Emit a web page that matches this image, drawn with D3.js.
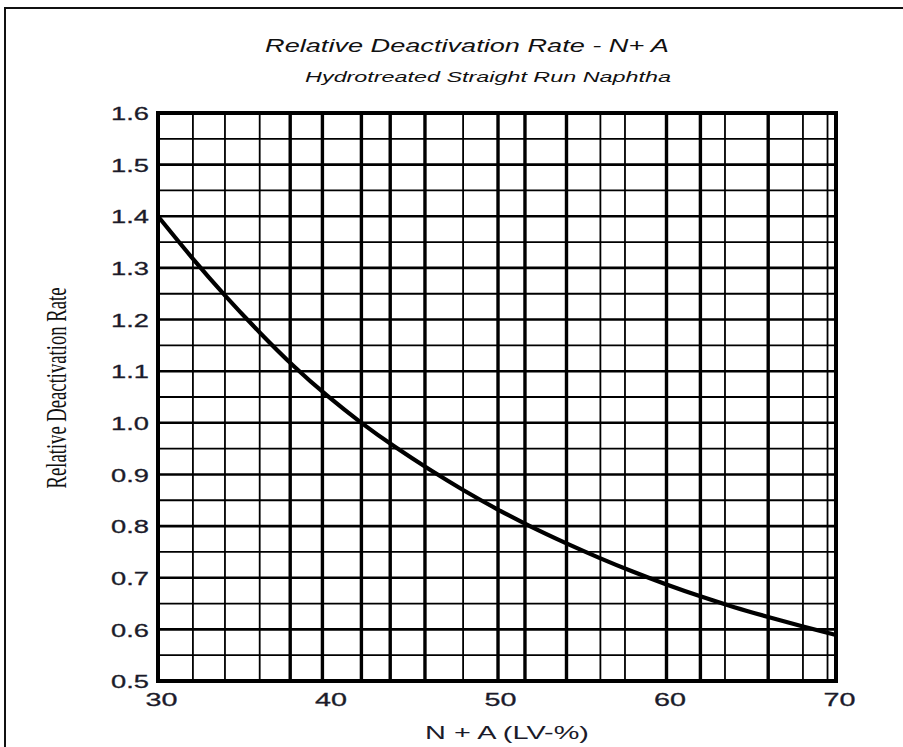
<!DOCTYPE html>
<html>
<head>
<meta charset="utf-8">
<script src="https://cdn.jsdelivr.net/npm/d3@7"></script>
<style>
  html, body { margin: 0; padding: 0; background: #fff; }
  svg { display: block; }
</style>
</head>
<body>
<svg id="chart" width="903" height="747"></svg>
<script>
// N + A content (LV-%) and relative deactivation rate along the curve
const naValues   = [30, 32, 34, 36, 38, 40, 42, 44, 46, 48, 50, 52, 54, 56, 58, 60, 62, 64, 66, 68, 70];
const rateValues = [1.40, 1.32, 1.245, 1.175, 1.11, 1.052, 1.00, 0.953, 0.91, 0.87, 0.833, 0.799, 0.768, 0.739, 0.712, 0.687, 0.664, 0.643, 0.624, 0.606, 0.589];

// axis ticks
const xTicks = [30, 40, 50, 60, 70];
const yTicks = [0.5, 0.6, 0.7, 0.8, 0.9, 1.0, 1.1, 1.2, 1.3, 1.4, 1.5, 1.6];

// vertical rulings of the chart paper (in N + A units) and which are heavy
const gridX      = [32.06, 33.95, 36.0, 37.8, 39.7, 42.0, 43.7, 45.75, 48.0, 50.06, 51.65, 54.1, 56.1, 57.55, 60.0, 62.0, 63.45, 66.0, 68.05, 69.5];
const gridXHeavy = [false, false, false, true, true, true, true, true, false, true, true, true, false, false, true, true, false, true, false, false];
// horizontal rulings every 0.05
const gridY = [0.55, 0.6, 0.65, 0.7, 0.75, 0.8, 0.85, 0.9, 0.95, 1.0, 1.05, 1.1, 1.15, 1.2, 1.25, 1.3, 1.35, 1.4, 1.45, 1.5, 1.55];

const svg = d3.select("#chart");

const x = d3.scaleLinear().domain([30, 70]).range([158, 836]);
const y = d3.scaleLinear().domain([0.5, 1.6]).range([681, 113]);

const SANS = "Liberation Sans, Arial, sans-serif";

// widen (or narrow) a text horizontally about its anchor so it spans `width` px
function fitWidth(sel, width, ax) {
  sel.each(function () {
    const w = this.getComputedTextLength();
    const k = width / w;
    const a = ax === undefined ? +this.getAttribute("x") || 0 : ax;
    const prev = this.getAttribute("transform") || "";
    this.setAttribute("transform", `${prev} translate(${a},0) scale(${k},1) translate(${-a},0)`);
  });
}

// outer frame (left and top edges)
svg.append("path")
  .attr("d", "M5,747 L5,8 L903,8")
  .attr("fill", "none")
  .attr("stroke", "#111")
  .attr("stroke-width", 2);

// titles
svg.append("text")
  .attr("x", 467).attr("y", 52)
  .attr("text-anchor", "middle")
  .attr("font-family", SANS)
  .attr("font-style", "italic")
  .attr("font-size", 18.5)
  .attr("fill", "#111")
  .text("Relative Deactivation Rate - N+ A")
  .call(fitWidth, 404);

svg.append("text")
  .attr("x", 488).attr("y", 82)
  .attr("text-anchor", "middle")
  .attr("font-family", SANS)
  .attr("font-style", "italic")
  .attr("font-size", 15)
  .attr("fill", "#111")
  .text("Hydrotreated Straight Run Naphtha")
  .call(fitWidth, 366);

// grid
const grid = svg.append("g").attr("stroke", "#000");

grid.selectAll("line.h")
  .data(gridY)
  .join("line")
  .attr("class", "h")
  .attr("x1", x(30)).attr("x2", x(70))
  .attr("y1", d => y(d)).attr("y2", d => y(d))
  .attr("stroke-width", (d, i) => (i % 2 === 1 ? 2.6 : 1.8));

grid.selectAll("line.v")
  .data(gridX)
  .join("line")
  .attr("class", "v")
  .attr("x1", d => x(d)).attr("x2", d => x(d))
  .attr("y1", y(1.6)).attr("y2", y(0.5))
  .attr("stroke-width", (d, i) => (gridXHeavy[i] ? 3.4 : 1.8));

// plot border
svg.append("rect")
  .attr("x", x(30)).attr("y", y(1.6))
  .attr("width", x(70) - x(30))
  .attr("height", y(0.5) - y(1.6))
  .attr("fill", "none")
  .attr("stroke", "#000")
  .attr("stroke-width", 4);

// curve
const line = d3.line()
  .x((d, i) => x(naValues[i]))
  .y(d => y(d))
  .curve(d3.curveNatural);

svg.append("path")
  .datum(rateValues)
  .attr("d", line)
  .attr("fill", "none")
  .attr("stroke", "#000")
  .attr("stroke-width", 4.2)
  .attr("stroke-linecap", "butt");

// y axis labels
const yAxis = svg.append("g")
  .attr("transform", `translate(${x(30) - 9},0)`)
  .call(d3.axisLeft(y).tickValues(yTicks).tickFormat(d3.format(".1f")).tickSize(0).tickPadding(0));
yAxis.select(".domain").remove();
yAxis.selectAll("text")
  .attr("font-family", SANS)
  .attr("font-size", 18.5)
  .attr("fill", "#1b1b2a")
  .attr("stroke", "#1b1b2a")
  .attr("stroke-width", 0.3)
  .attr("dy", "0.36em")
  .call(fitWidth, 38, 0);

// x axis labels
const xAxis = svg.append("g")
  .attr("transform", `translate(3,${y(0.5) + 12})`)
  .call(d3.axisBottom(x).tickValues(xTicks).tickFormat(d3.format("d")).tickSize(0).tickPadding(0));
xAxis.select(".domain").remove();
xAxis.selectAll("text")
  .attr("font-family", SANS)
  .attr("font-size", 18.5)
  .attr("fill", "#1b1b2a")
  .attr("stroke", "#1b1b2a")
  .attr("stroke-width", 0.3)
  .call(fitWidth, 32, 0);

// axis titles
svg.append("text")
  .attr("x", 507).attr("y", 739)
  .attr("text-anchor", "middle")
  .attr("font-family", SANS)
  .attr("font-size", 17.5)
  .attr("fill", "#1b1b2a")
  .text("N + A (LV-%)")
  .call(fitWidth, 164);

svg.append("text")
  .attr("transform", "translate(66,388) rotate(-90)")
  .attr("text-anchor", "middle")
  .attr("font-family", "Liberation Serif, Times New Roman, serif")
  .attr("font-size", 29)
  .attr("fill", "#111")
  .text("Relative Deactivation Rate")
  .call(fitWidth, 201, 0);
</script>
</body>
</html>
